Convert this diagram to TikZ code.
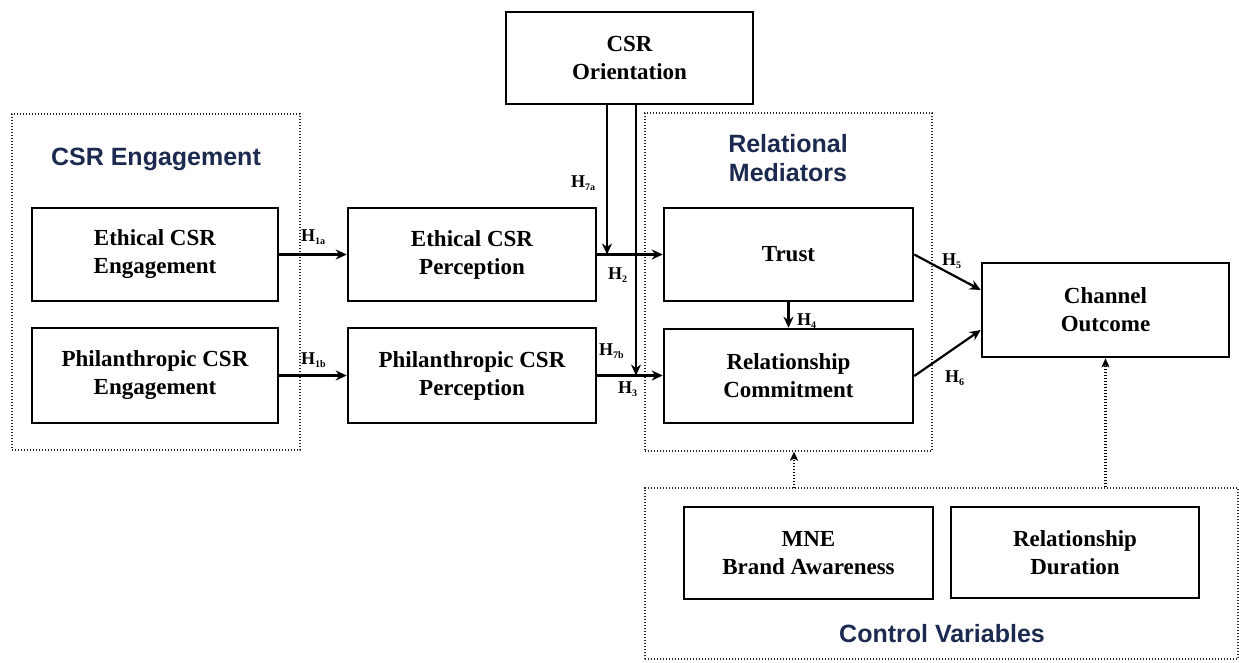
\documentclass[tikz,border=0pt]{standalone}
\usepackage{fontspec}
\setmainfont{Liberation Serif}
\newfontfamily\titlefont{Liberation Sans}
\usetikzlibrary{arrows.meta,calc}
\definecolor{navy}{RGB}{28,42,80}
\newcommand\hyp[1]{H\raisebox{-3pt}{\fontsize{10}{10}\selectfont #1}}
\tikzset{
  box/.style={draw=black, line width=2.5pt, inner sep=0pt, align=center,
    font=\bfseries\fontsize{23}{28}\selectfont},
  grp/.style={draw=black!85, line width=1.3pt, dash pattern=on 1.4pt off 1.6pt, inner sep=0pt},
  ttl/.style={text=navy, align=center, font=\titlefont\bfseries\fontsize{25}{29}\selectfont},
  arr/.style={line width=2.2pt, -{Stealth[length=11pt,width=10pt,inset=3.5pt]}},
  dotarr/.style={line width=2.4pt, dash pattern=on 1.5pt off 1.5pt,
    -{Stealth[length=9pt,width=8pt,inset=2pt]}},
  hlab/.style={anchor=base west, inner sep=0pt, font=\bfseries\fontsize{18}{20}\selectfont},
}
\begin{document}
\begin{tikzpicture}[x=1pt,y=-1pt]
\useasboundingbox (0,0) rectangle (1239,662);
% groups
\node[grp, minimum width=288pt, minimum height=336pt] (g1) at (156,282) {};
\node[grp, minimum width=287pt, minimum height=338pt] (g2) at (788.5,282) {};
\node[grp, minimum width=593pt, minimum height=171pt] (g3) at (941.5,573.5) {};
% titles
\node[ttl] (t1) at (156,159) {CSR Engagement};
\node[ttl] (t2) at (788,158) {Relational\\Mediators};
\node[ttl] (t3) at (942,634) {Control Variables};
% boxes
\node[box, minimum width=246pt, minimum height=93pt] (eng1) at (155,254.5) {Ethical CSR\\Engagement};
\node[box, minimum width=246pt, minimum height=95pt] (eng2) at (155,375.5) {Philanthropic CSR\\Engagement};
\node[box, minimum width=248pt, minimum height=93pt] (per1) at (472,254.5) {Ethical CSR\\Perception};
\node[box, minimum width=248pt, minimum height=95pt] (per2) at (472,375.5) {Philanthropic CSR\\Perception};
\node[box, minimum width=247pt, minimum height=92pt] (orient) at (629.5,58) {CSR\\Orientation};
\node[box, minimum width=249pt, minimum height=93pt] (trust) at (788.5,254.5) {Trust};
\node[box, minimum width=249pt, minimum height=94pt] (commit) at (788.5,376) {Relationship\\Commitment};
\node[box, minimum width=247pt, minimum height=94pt] (outcome) at (1105.5,310) {Channel\\Outcome};
\node[box, minimum width=249pt, minimum height=92pt] (mne) at (808.5,553) {MNE\\Brand Awareness};
\node[box, minimum width=248pt, minimum height=91pt] (dur) at (1075,552.5) {Relationship\\Duration};
% junctions
\coordinate (j1) at (607,254.5);
\coordinate (j2) at (636,375.5);
\coordinate (d1) at (794,488);
% connectors
\draw[arr] (eng1.east) -- (per1.west);
\draw[arr] (eng2.east) -- (per2.west);
\draw[arr] (per1.east) -- (trust.west);
\draw[arr] (per2.east) -- (per2.east -| commit.west);
\draw[arr] (orient.south -| j1) -- (j1);
\draw[arr] (orient.south -| j2) -- (j2);
\draw[arr] (trust.south) -- (commit.north);
\draw[arr] (trust.east) -- ($(outcome.west)+(0,-20)$);
\draw[arr] (commit.east) -- ($(outcome.west)+(0,20)$);
\draw[dotarr] (d1) -- (d1 |- g2.south);
\draw[dotarr] (g3.north -| outcome.south) -- (outcome.south);
% labels
\node[hlab] (h1a) at (301,241) {\hyp{1a}};
\node[hlab] (h1b) at (301,364) {\hyp{1b}};
\node[hlab] (h7a) at (571,187) {\hyp{7a}};
\node[hlab] (h2) at (608,279) {\hyp{2}};
\node[hlab] (h7b) at (599,355) {\hyp{7b}};
\node[hlab] (h3) at (618,393) {\hyp{3}};
\node[hlab] (h4) at (797,325) {\hyp{4}};
\node[hlab] (h5) at (942,265) {\hyp{5}};
\node[hlab] (h6) at (945,382) {\hyp{6}};
\end{tikzpicture}
\end{document}
